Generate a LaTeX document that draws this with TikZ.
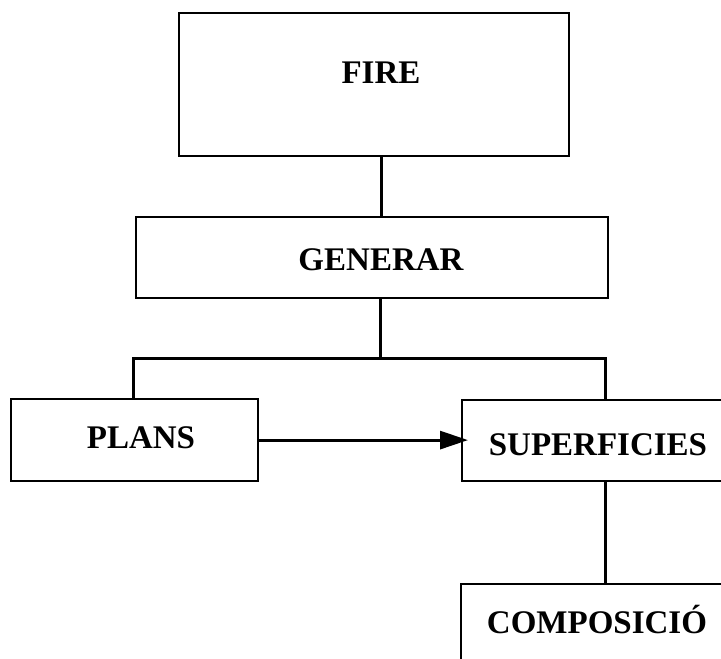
\documentclass[tikz,border=0pt]{standalone}
\usepackage{fontspec}
\setmainfont{Liberation Serif}
\usetikzlibrary{arrows.meta}
\begin{document}
\begin{tikzpicture}[x=1pt,y=-1pt,
  box/.style={draw=black, line width=2.2pt, rectangle, inner sep=0pt, anchor=north west},
  lbl/.style={font=\fontsize{33}{38}\selectfont\bfseries, inner sep=0pt, anchor=center},
  link/.style={draw=black, line width=3pt},
  flow/.style={link, -{Triangle[length=28pt,width=18pt]}, shorten >=-7pt}]
  \useasboundingbox (0,0) rectangle (721,659);
  \clip (0,0) rectangle (721,659);
  % boxes (the last two run past the frame on the right and bottom)
  \node[box, minimum width=390pt, minimum height=143pt] (fire) at (178,12) {};
  \node[box, minimum width=472pt, minimum height=81pt] (gen) at (135,216) {};
  \node[box, minimum width=247pt, minimum height=82pt] (plans) at (10,398) {};
  \node[box, minimum width=290pt, minimum height=81pt] (sup) at (461,399) {};
  \node[box, minimum width=290pt, minimum height=120pt] (comp) at (460,583) {};
  % labels
  \node[lbl] (tfire) at (381,73) {FIRE};
  \node[lbl] (tgen) at (381,260) {GENERAR};
  \node[lbl] (tplans) at (141,438) {PLANS};
  \node[lbl] (tsup) at (598,445) {SUPERFICIES};
  \node[lbl] (tcomp) at (597,619) {COMPOSICIÓ};
  % connectors
  \coordinate (busmid) at (380,358);
  \coordinate (busl) at (133,358);
  \coordinate (busr) at (605,358);
  \draw[link] (fire.south -| tfire) -- (gen.north -| tfire);
  \draw[link] (gen.south -| busmid) -- (busmid);
  \draw[link] (plans.north -| busl) -- (busl) -- (busr) -- (sup.north -| busr);
  \draw[flow] (plans.east) -- (plans.east -| sup.west);
  \draw[link] (sup.south -| busr) -- (comp.north -| busr);
\end{tikzpicture}
\end{document}
